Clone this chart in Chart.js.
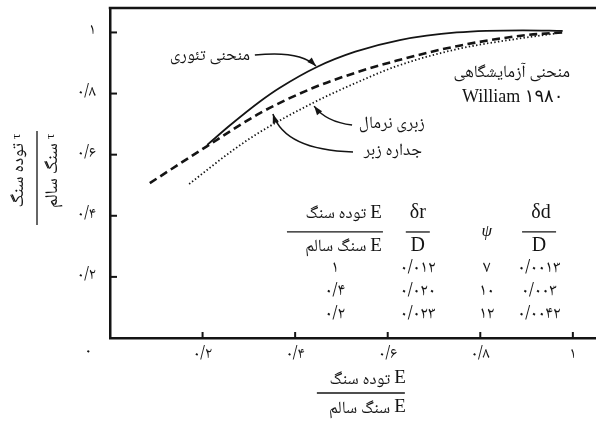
<!DOCTYPE html>
<html>
<head>
<meta charset="utf-8">
<script src="https://cdn.jsdelivr.net/npm/chart.js@4/dist/chart.umd.min.js"></script>
<style>
  html, body { margin: 0; padding: 0; background: #fff; }
  #wrap { width: 596px; height: 421px; }
</style>
</head>
<body>
<div id="wrap"><canvas id="c" width="596" height="421"></canvas></div>
<script>
// Shear-strength ratio (rock mass / intact rock) against modulus ratio
const theoryX = [0.21, 0.26, 0.324, 0.367, 0.447, 0.53, 0.626, 0.749, 0.892, 0.978];
const theoryY = [0.632, 0.697, 0.774, 0.819, 0.887, 0.937, 0.975, 1.0, 1.007, 1.005];

const normalX = [0.086, 0.21, 0.324, 0.438, 0.53, 0.62, 0.749, 0.892, 0.978];
const normalY = [0.507, 0.628, 0.736, 0.818, 0.868, 0.908, 0.955, 0.99, 1.0];

const roughX = [0.171, 0.266, 0.324, 0.438, 0.53, 0.62, 0.749, 0.892, 0.965];
const roughY = [0.504, 0.615, 0.674, 0.769, 0.834, 0.89, 0.945, 0.982, 0.997];

const tickStep = 0.2;

// Parameter table
const modulusRatio = ['۱', '۰/۴', '۰/۲'];
const drOverD = ['۰/۰۱۲', '۰/۰۲۰', '۰/۰۲۳'];
const psiValues = ['۷', '۱۰', '۱۲'];
const ddOverD = ['۰/۰۰۱۳', '۰/۰۰۳', '۰/۰۰۴۲'];

const FA_DIGITS = '۰۱۲۳۴۵۶۷۸۹';
const toFa = v => String(Number(v.toFixed(2))).replace(/\d/g, d => FA_DIGITS[d]).replace('.', '/');

const INK = '#141414';
const SERIF = '"Liberation Serif", "Times New Roman", "DejaVu Sans", serif';
const FA = '"Noto Naskh Arabic", "Noto Sans Arabic", "DejaVu Sans", sans-serif';

function pts(xs, ys) { return xs.map((x, i) => ({ x, y: ys[i] })); }

function arrow(ctx, p0, c, p1) {
  ctx.beginPath();
  ctx.moveTo(p0[0], p0[1]);
  ctx.quadraticCurveTo(c[0], c[1], p1[0], p1[1]);
  ctx.stroke();
  const ang = Math.atan2(p1[1] - c[1], p1[0] - c[0]);
  const L = 9, W = 3.2;
  ctx.beginPath();
  ctx.moveTo(p1[0], p1[1]);
  ctx.lineTo(p1[0] - L * Math.cos(ang) + W * Math.sin(ang), p1[1] - L * Math.sin(ang) - W * Math.cos(ang));
  ctx.lineTo(p1[0] - L * Math.cos(ang) - W * Math.sin(ang), p1[1] - L * Math.sin(ang) + W * Math.cos(ang));
  ctx.closePath();
  ctx.fill();
}

// symbol with a Persian subscript to its left, right edge at xr
function symbolWithSub(ctx, sym, symFont, sub, subFont, xr, y, subDrop) {
  ctx.textBaseline = 'middle';
  ctx.font = symFont;
  ctx.textAlign = 'right';
  ctx.fillText(sym, xr, y);
  const w = ctx.measureText(sym).width;
  ctx.font = subFont;
  ctx.fillText(sub, xr - w - 4, y + subDrop);
}

const decorations = {
  id: 'decorations',
  afterDraw(chart) {
    const { ctx, chartArea: a, scales: { x, y } } = chart;
    const P = (xv, yv) => [x.getPixelForValue(xv), y.getPixelForValue(yv)];
    ctx.save();
    ctx.strokeStyle = INK;
    ctx.fillStyle = INK;

    // top frame line
    ctx.lineWidth = 2.5;
    ctx.beginPath();
    ctx.moveTo(a.left - 1.25, a.top);
    ctx.lineTo(a.right, a.top);
    ctx.stroke();

    // inward tick marks
    ctx.lineWidth = 2;
    x.ticks.forEach(t => {
      if (t.value === 0) return;
      const px = x.getPixelForValue(t.value);
      ctx.beginPath(); ctx.moveTo(px, a.bottom); ctx.lineTo(px, a.bottom - 6); ctx.stroke();
    });
    y.ticks.forEach(t => {
      if (t.value === 0) return;
      const py = y.getPixelForValue(t.value);
      ctx.beginPath(); ctx.moveTo(a.left, py); ctx.lineTo(a.left + 7, py); ctx.stroke();
    });

    // origin label
    ctx.font = '16px ' + FA;
    ctx.textAlign = 'center';
    ctx.textBaseline = 'middle';
    ctx.fillText('۰', a.left - 22, a.bottom + 15);

    // curve annotations
    ctx.font = '17px ' + FA;
    let p = P(0.216, 0.916); ctx.fillText('منحنی تئوری', p[0], p[1]);
    p = P(0.609, 0.694); ctx.fillText('زبری نرمال', p[0], p[1]);
    p = P(0.611, 0.605); ctx.fillText('جداره زبر', p[0], p[1]);
    p = P(0.868, 0.861); ctx.fillText('منحنی آزمایشگاهی', p[0], p[1]);
    p = P(0.87, 0.789);
    ctx.font = '18px ' + SERIF;
    ctx.direction = 'ltr';
    ctx.fillText('William ۱۹۸۰', p[0], p[1]);

    ctx.lineWidth = 1.5;
    arrow(ctx, P(0.313, 0.926), P(0.41, 0.942), P(0.445, 0.89));
    arrow(ctx, P(0.523, 0.697), P(0.467, 0.707), P(0.441, 0.759));
    arrow(ctx, P(0.525, 0.609), P(0.378, 0.615), P(0.352, 0.733));

    // table
    const colX = [0.486, 0.665, 0.814, 0.927].map(v => x.getPixelForValue(v));
    const rowY = [0.2225, 0.147, 0.072].map(v => y.getPixelForValue(v));
    const numY = y.getPixelForValue(0.409);
    const barY = y.getPixelForValue(0.347);
    const denY = y.getPixelForValue(0.301);
    ctx.lineWidth = 1.3;
    // modulus ratio header
    symbolWithSub(ctx, 'E', '19px ' + SERIF, 'توده سنگ', '17px ' + FA, colX[0] + 47, numY, 3);
    symbolWithSub(ctx, 'E', '19px ' + SERIF, 'سنگ سالم', '17px ' + FA, colX[0] + 47, denY, 3);
    ctx.beginPath(); ctx.moveTo(colX[0] - 48, barY); ctx.lineTo(colX[0] + 48, barY); ctx.stroke();
    // δr / D
    ctx.textAlign = 'center';
    ctx.font = '20px ' + SERIF;
    ctx.fillText('δr', colX[1], numY);
    ctx.fillText('D', colX[1], denY);
    ctx.beginPath(); ctx.moveTo(colX[1] - 12, barY); ctx.lineTo(colX[1] + 12, barY); ctx.stroke();
    // ψ
    ctx.font = 'italic 17px ' + SERIF;
    ctx.fillText('ψ', colX[2], barY);
    // δd / D
    ctx.font = '20px ' + SERIF;
    ctx.fillText('δd', colX[3] + 2, numY);
    ctx.fillText('D', colX[3], denY);
    ctx.beginPath(); ctx.moveTo(colX[3] - 17, barY); ctx.lineTo(colX[3] + 17, barY); ctx.stroke();
    // rows
    ctx.font = '17px ' + FA;
    ctx.letterSpacing = '1px';
    [modulusRatio, drOverD, psiValues, ddOverD].forEach((col, ci) => {
      col.forEach((txt, ri) => ctx.fillText(txt, colX[ci], rowY[ri]));
    });
    ctx.letterSpacing = '0px';

    // x-axis title
    const tx = x.getPixelForValue(0.542);
    symbolWithSub(ctx, 'E', '19px ' + SERIF, 'توده سنگ', '17px ' + FA, tx + 45, a.bottom + 40, 4);
    symbolWithSub(ctx, 'E', '19px ' + SERIF, 'سنگ سالم', '17px ' + FA, tx + 45, a.bottom + 69, 4);
    ctx.beginPath(); ctx.moveTo(tx - 44, a.bottom + 55); ctx.lineTo(tx + 44, a.bottom + 55); ctx.stroke();

    // y-axis title (rotated)
    ctx.save();
    ctx.translate(a.left - 73, y.getPixelForValue(0.524));
    ctx.rotate(-Math.PI / 2);
    ctx.beginPath(); ctx.moveTo(-47, 0); ctx.lineTo(47, 0); ctx.stroke();
    symbolWithSub(ctx, 'τ', '13px ' + SERIF, 'توده سنگ', '18px ' + FA, 44, -20, 4);
    symbolWithSub(ctx, 'τ', '13px ' + SERIF, 'سنگ سالم', '18px ' + FA, 44, 14, 4);
    ctx.restore();

    ctx.restore();
  }
};

new Chart(document.getElementById('c'), {
  type: 'scatter',
  data: {
    datasets: [
      { label: 'theory', data: pts(theoryX, theoryY), showLine: true, borderColor: INK,
        borderWidth: 1.8, pointRadius: 0, cubicInterpolationMode: 'monotone' },
      { label: 'normal', data: pts(normalX, normalY), showLine: true, borderColor: INK,
        borderWidth: 2.6, borderDash: [8, 4.5], pointRadius: 0, cubicInterpolationMode: 'monotone' },
      { label: 'rough', data: pts(roughX, roughY), showLine: true, borderColor: INK,
        borderWidth: 1.8, borderDash: [1.4, 2.3], pointRadius: 0, cubicInterpolationMode: 'monotone' }
    ]
  },
  options: {
    responsive: false,
    animation: false,
    devicePixelRatio: 1,
    layout: { padding: { top: 8, right: 0, left: 0, bottom: 0 } },
    plugins: { legend: { display: false }, tooltip: { enabled: false } },
    scales: {
      x: {
        type: 'linear', min: 0, max: 1.05,
        ticks: { stepSize: tickStep, includeBounds: false, maxRotation: 0, padding: 8,
          color: INK, font: { family: FA, size: 16 },
          callback: v => (v === 0 ? '' : toFa(v)) },
        grid: { drawOnChartArea: false, drawTicks: false },
        border: { display: true, width: 2.5, color: INK },
        afterFit: s => { s.height = 83; s.paddingLeft = 0; s.paddingRight = 0; }
      },
      y: {
        type: 'linear', min: 0, max: 1.08,
        ticks: { stepSize: tickStep, includeBounds: false, padding: 14,
          color: INK, font: { family: FA, size: 16 },
          callback: v => (v === 0 ? '' : toFa(v)) },
        grid: { drawOnChartArea: false, drawTicks: false },
        border: { display: true, width: 2.5, color: INK },
        afterFit: s => { s.width = 110; s.paddingTop = 0; s.paddingBottom = 0; }
      }
    }
  },
  plugins: [decorations]
});
</script>
</body>
</html>
